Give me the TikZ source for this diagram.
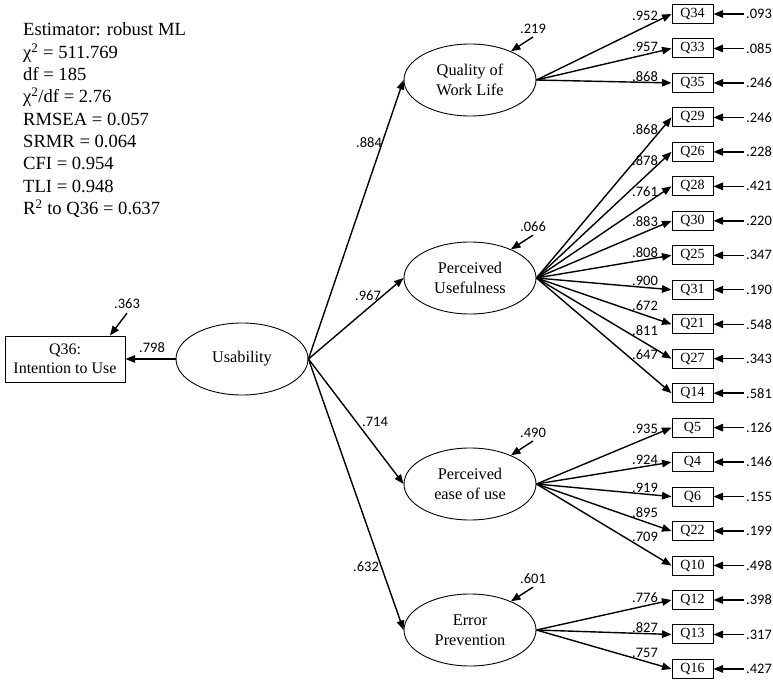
\documentclass[tikz,border=0pt]{standalone}
\usepackage{fontspec}
\setmainfont{Liberation Serif}
\newfontfamily\numfont{Carlito}
\usetikzlibrary{arrows.meta,shapes.geometric}
\begin{document}
\begin{tikzpicture}[x=1pt,y=-1pt,
  arr/.style={line width=1.4pt,-{Triangle[length=9.5pt,width=7.5pt]}},
  latent/.style={ellipse,draw,line width=0.9pt,minimum width=132pt,minimum height=72pt,inner sep=0pt,align=center,font=\fontsize{16.3}{19.5}\selectfont},
  item/.style={rectangle,draw,line width=1pt,minimum width=41pt,minimum height=19pt,inner sep=0pt,font=\fontsize{14}{15}\selectfont},
  obsbox/.style={rectangle,draw,line width=1pt,minimum width=120pt,minimum height=46pt,inner sep=0pt,align=center,font=\fontsize{16}{18.5}\selectfont},
  num/.style={font=\numfont\fontsize{14.5}{15}\selectfont,inner sep=0pt},
  stat/.style={anchor=base west,inner sep=0pt,font=\fontsize{18.6}{22}\selectfont}]
\useasboundingbox (0,0) rectangle (773,682);
% fit statistics
\node[stat] (s1) at (23,36) {Estimator: robust ML};
\node[stat] (s2) at (23,58.3) {χ\textsuperscript{2} = 511.769};
\node[stat] (s3) at (23,80.6) {df = 185};
\node[stat] (s4) at (23,102.9) {χ\textsuperscript{2}/df = 2.76};
\node[stat] (s5) at (23,125.2) {RMSEA = 0.057};
\node[stat] (s6) at (23,147.5) {SRMR = 0.064};
\node[stat] (s7) at (23,169.8) {CFI = 0.954};
\node[stat] (s8) at (23,192.1) {TLI = 0.948};
\node[stat] (s9) at (23,214.4) {R\textsuperscript{2} to Q36 = 0.637};
% latent variables
\node[latent] (U) at (242,359) {Usability};
\node[latent] (QWL) at (470,80) {Quality of\\Work Life};
\node[latent] (PU) at (470,278) {Perceived\\Usefulness};
\node[latent] (PEU) at (470,484) {Perceived\\ease of use};
\node[latent] (EP) at (470,630) {Error\\Prevention};
% outcome
\node[obsbox] (Q36) at (65,359) {Q36:\\Intention to Use};
\draw[arr] (U.west) -- (Q36.east);
\node[num] (l798) at (152,348) {.798};
\node[num] (l363) at (127,304) {.363};
\draw[arr] ([yshift=-4pt]l363.south) -- ([xshift=45pt]Q36.north);
% structural paths
\foreach \lat/\lx/\ly/\lt in {QWL/369/143/.884, PU/368/296/.967, PEU/375/422/.714, EP/366/567/.632}{
  \draw[arr] (U.east) -- (\lat.west);
  \node[num] (s\lat) at (\lx,\ly) {\lt};
}
% latent residuals
\foreach \lat/\cy/\lt in {QWL/80/.219, PU/278/.066, PEU/484/.490, EP/630/.601}{
  \node[num] (r\lat) at (533,{\cy-51}) {\lt};
  \draw[arr] ([yshift=-3pt]r\lat.south) -- (\lat.35);
}
% indicators
\foreach \q/\row/\lat/\ld/\ly/\er in {
  34/0/QWL/.952/16.3/.093, 33/1/QWL/.957/47/.085, 35/2/QWL/.868/77/.246,
  29/3/PU/.868/130/.246, 26/4/PU/.878/161/.228, 28/5/PU/.761/191.5/.421,
  30/6/PU/.883/222/.220, 25/7/PU/.808/253/.347, 31/8/PU/.900/281/.190,
  21/9/PU/.672/306/.548, 27/10/PU/.811/330.5/.343, 14/11/PU/.647/355/.581,
  5/12/PEU/.935/429/.126, 4/13/PEU/.924/459.5/.146, 6/14/PEU/.919/488/.155,
  22/15/PEU/.895/512.6/.199, 10/16/PEU/.709/537/.498,
  12/17/EP/.776/598/.398, 13/18/EP/.827/628/.317, 16/19/EP/.757/653/.427}{
  \node[item] (Q\q) at (692.5,{14+34.47*\row}) {Q\q};
  \draw[arr] (\lat.east) -- (Q\q.west);
  \node[num] (L\q) at (645,\ly) {\ld};
  \node[num,anchor=west] (E\q) at (746,{14+34.47*\row}) {\er};
  \draw[arr] ([xshift=-2pt]E\q.west) -- (Q\q.east);
}
\end{tikzpicture}
\end{document}
